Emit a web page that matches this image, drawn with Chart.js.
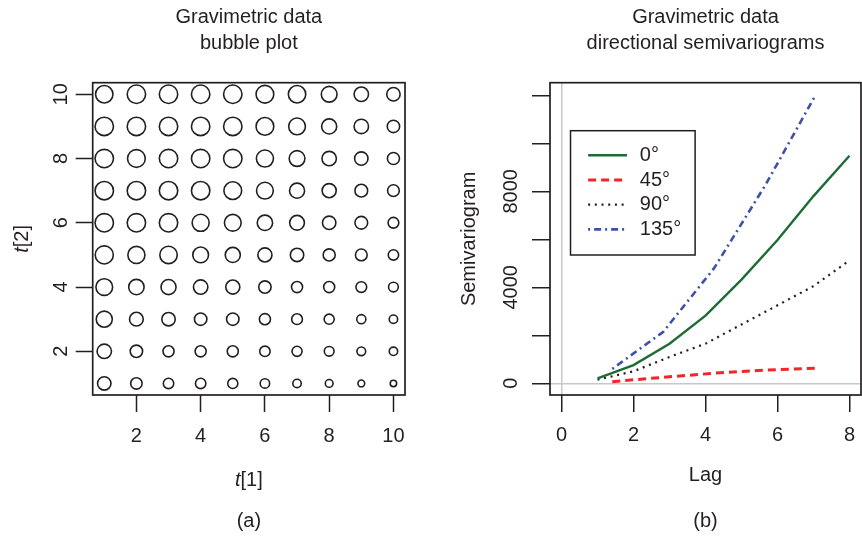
<!DOCTYPE html>
<html>
<head>
<meta charset="utf-8">
<script src="https://cdn.jsdelivr.net/npm/chart.js@4.4.0/dist/chart.umd.min.js"></script>
<style>
  html, body { margin: 0; padding: 0; background: #fff; }
  #wrap { position: relative; width: 862px; height: 536px; }
  canvas { position: absolute; top: 0; }
  #bubbles { left: 0; }
  #semi { left: 431px; }
</style>
</head>
<body>
<div id="wrap">
  <canvas id="bubbles" width="431" height="536"></canvas>
  <canvas id="semi" width="431" height="536"></canvas>
</div>
<script>
// --- data ---
const gridT1 = [1, 2, 3, 4, 5, 6, 7, 8, 9, 10];
const gridT2 = [1, 2, 3, 4, 5, 6, 7, 8, 9, 10];
// bubble values (arbitrary units), one row per t[2] from 1 up to 10
const gravRows = [
  [45, 39, 36, 36, 35, 33, 30, 28, 25, 24],
  [48, 42, 38, 38, 38, 36, 35, 34, 31, 30],
  [53, 46, 45, 42, 42, 38, 37, 35, 32, 30],
  [55, 51, 50, 48, 47, 42, 38, 38, 37, 34],
  [59, 56, 57, 52, 50, 47, 45, 41, 40, 36],
  [60, 60, 60, 56, 55, 51, 49, 45, 43, 37],
  [60, 60, 60, 60, 58, 55, 50, 47, 43, 40],
  [60, 58, 60, 60, 60, 56, 52, 48, 45, 41],
  [60, 60, 60, 60, 60, 58, 55, 50, 48, 42],
  [57, 60, 60, 60, 60, 58, 57, 52, 48, 45]
];
const bubbleTicks = [2, 4, 6, 8, 10];

const lagAxis = [1, 2, 3, 4, 5, 6, 7, 8];          // 0 and 90 degrees
const lagDiag = [1.41, 2.83, 4.24, 5.66, 7.07];    // 45 and 135 degrees
const semi0   = [210, 760, 1650, 2820, 4320, 5970, 7800, 9480];
const semi90  = [150, 500, 1100, 1650, 2450, 3250, 4050, 5120];
const semi45  = [70, 250, 420, 555, 625];
const semi135 = [600, 2150, 4800, 8250, 12040];
const dirLabels = ['0°', '45°', '90°', '135°'];
const lagTicks = [0, 2, 4, 6, 8];
const semiTicks = [0, 2000, 4000, 6000, 8000, 10000, 12000];
const semiTickLabels = ['0', '', '4000', '', '8000', '', ''];

const ink = '#231f20';
const FONT = '"Liberation Sans", Arial, Helvetica, sans-serif';
Chart.defaults.font.family = FONT;
Chart.defaults.font.size = 20;
Chart.defaults.color = ink;

// box round the plot region
const framePlugin = {
  id: 'frame',
  afterDatasetsDraw(chart) {
    const { ctx, chartArea: a } = chart;
    ctx.save();
    ctx.strokeStyle = ink;
    ctx.lineWidth = 1.7;
    ctx.strokeRect(a.left, a.top, a.right - a.left, a.bottom - a.top);
    ctx.restore();
  }
};

// t[1] / t[2] axis labels with italic t
const tLabelPlugin = {
  id: 'tlabels',
  afterDraw(chart) {
    const { ctx, chartArea: a } = chart;
    const put = (sub, cx, cy, rot) => {
      ctx.save();
      ctx.translate(cx, cy);
      ctx.rotate(rot);
      ctx.fillStyle = ink;
      ctx.textBaseline = 'middle';
      ctx.textAlign = 'left';
      ctx.font = 'italic 20px ' + FONT;
      const w1 = ctx.measureText('t').width;
      ctx.font = '20px ' + FONT;
      const w2 = ctx.measureText(sub).width;
      const x0 = -(w1 + w2) / 2;
      ctx.font = 'italic 20px ' + FONT;
      ctx.fillText('t', x0, 0);
      ctx.font = '20px ' + FONT;
      ctx.fillText(sub, x0 + w1, 0);
      ctx.restore();
    };
    put('[1]', (a.left + a.right) / 2, a.bottom + 85, 0);
    put('[2]', 22, (a.top + a.bottom) / 2, -Math.PI / 2);
  }
};

// legend box inside the semivariogram panel
const keyPlugin = {
  id: 'key',
  afterDatasetsDraw(chart) {
    const { ctx } = chart;
    const left = chart.scales.x.getPixelForValue(0.25);
    const top = chart.scales.y.getPixelForValue(10525);
    const w = 124.6, h = 124.3;
    ctx.save();
    ctx.fillStyle = '#fff';
    ctx.fillRect(left, top, w, h);
    ctx.strokeStyle = ink;
    ctx.lineWidth = 1.5;
    ctx.strokeRect(left, top, w, h);
    chart.data.datasets.forEach((ds, i) => {
      const y = top + 24.6 + i * 24.7;
      ctx.strokeStyle = ds.borderColor;
      ctx.lineWidth = ds.borderWidth;
      ctx.setLineDash(ds.borderDash || []);
      ctx.beginPath();
      ctx.moveTo(left + 17.6, y);
      ctx.lineTo(left + 56.6, y);
      ctx.stroke();
      ctx.setLineDash([]);
      ctx.fillStyle = ink;
      ctx.font = '20px ' + FONT;
      ctx.textBaseline = 'middle';
      ctx.textAlign = 'left';
      ctx.fillText(ds.label, left + 69.3, y);
    });
    ctx.restore();
  }
};

function fixedTicks(list) {
  return scale => { scale.ticks = list.map(v => ({ value: v })); };
}
// fixed axis size, no extra label overflow padding
function fixH(h) {
  return s => { s.height = h; s.paddingLeft = 0; s.paddingRight = 0; };
}
function fixW(w) {
  return s => { s.width = w; s.paddingTop = 0; s.paddingBottom = 0; };
}

const tickGrid = { drawOnChartArea: false, drawTicks: true, tickLength: 17, tickColor: ink, tickWidth: 1.5 };

// ---- (a) bubble plot ----
const bubblePoints = [];
gravRows.forEach((row, j) => {
  row.forEach((v, i) => {
    bubblePoints.push({ x: gridT1[i], y: gridT2[j], r: v / 6 - 0.8 });
  });
});

new Chart(document.getElementById('bubbles'), {
  type: 'bubble',
  data: {
    datasets: [{
      data: bubblePoints,
      backgroundColor: 'rgba(0,0,0,0)',
      borderColor: ink,
      borderWidth: 1.6,
      hoverRadius: 0
    }]
  },
  options: {
    responsive: false,
    animation: false,
    devicePixelRatio: 1,
    layout: { padding: { left: 0, right: 26, top: 0, bottom: 0 } },
    plugins: {
      legend: { display: false },
      tooltip: { enabled: false },
      title: {
        display: true, text: ['Gravimetric data', 'bubble plot'], fullSize: false,
        font: { size: 20, weight: 'normal', lineHeight: 1.3 }, color: ink,
        padding: { top: 4, bottom: 26.7 }
      },
      subtitle: {
        display: true, text: '(a)', position: 'bottom', fullSize: false,
        font: { size: 20, lineHeight: 1.2 }, color: ink,
        padding: { top: 8.5, bottom: 2.5 }
      }
    },
    scales: {
      x: {
        type: 'linear', min: 0.64, max: 10.36,
        afterBuildTicks: fixedTicks(bubbleTicks),
        afterFit: fixH(106),
        grid: tickGrid, border: { display: false },
        ticks: { padding: 12, maxRotation: 0, autoSkip: false, color: ink }
      },
      y: {
        type: 'linear', min: 0.64, max: 10.36,
        afterBuildTicks: fixedTicks(bubbleTicks),
        afterFit: fixW(92.7),
        grid: tickGrid, border: { display: false },
        ticks: { padding: 2.6, minRotation: 90, maxRotation: 90, crossAlign: 'center', autoSkip: false, color: ink }
      }
    }
  },
  plugins: [framePlugin, tLabelPlugin]
});

// ---- (b) directional semivariograms ----
const toXY = (xs, ys) => xs.map((x, i) => ({ x: x, y: ys[i] }));
const zeroLine = ctx => (ctx.tick && ctx.tick.value === 0) ? '#c8c8c8' : 'rgba(0,0,0,0)';

new Chart(document.getElementById('semi'), {
  type: 'line',
  data: {
    datasets: [
      { label: dirLabels[0], data: toXY(lagAxis, semi0), borderColor: '#1d6b35', borderWidth: 2.4, borderDash: [] },
      { label: dirLabels[1], data: toXY(lagDiag, semi45), borderColor: '#f42428', borderWidth: 3, borderDash: [8, 5] },
      { label: dirLabels[2], data: toXY(lagAxis, semi90), borderColor: '#231f20', borderWidth: 2.2, borderDash: [2, 4.7] },
      { label: dirLabels[3], data: toXY(lagDiag, semi135), borderColor: '#3d50aa', borderWidth: 2.6, borderDash: [2, 4, 7, 4] }
    ]
  },
  options: {
    responsive: false,
    animation: false,
    devicePixelRatio: 1,
    layout: { padding: { left: 0, right: 1, top: 0, bottom: 0 } },
    elements: { point: { radius: 0, hoverRadius: 0 }, line: { tension: 0, borderCapStyle: 'butt', fill: false } },
    plugins: {
      legend: { display: false },
      tooltip: { enabled: false },
      title: {
        display: true, text: ['Gravimetric data', 'directional semivariograms'], fullSize: false,
        font: { size: 20, weight: 'normal', lineHeight: 1.3 }, color: ink,
        padding: { top: 4, bottom: 26.7 }
      },
      subtitle: {
        display: true, text: '(b)', position: 'bottom', fullSize: false,
        font: { size: 20, lineHeight: 1.2 }, color: ink,
        padding: { top: 8.5, bottom: 2.5 }
      }
    },
    scales: {
      x: {
        type: 'linear', min: -0.32, max: 8.32,
        afterBuildTicks: fixedTicks(lagTicks),
        afterFit: fixH(106),
        grid: Object.assign({}, tickGrid, { drawOnChartArea: true, color: zeroLine, lineWidth: 1.5 }),
        border: { display: false },
        ticks: { padding: 11, maxRotation: 0, autoSkip: false, color: ink },
        title: { display: true, text: 'Lag', color: ink, font: { size: 20, lineHeight: 1.2 }, padding: { top: 0, bottom: 13.3 } }
      },
      y: {
        type: 'linear', min: -487, max: 12525,
        afterBuildTicks: fixedTicks(semiTicks),
        afterFit: fixW(119),
        grid: Object.assign({}, tickGrid, { tickLength: 18, drawOnChartArea: true, color: zeroLine, lineWidth: 1.5 }),
        border: { display: false },
        ticks: {
          padding: -2, minRotation: 90, maxRotation: 90, crossAlign: 'center', autoSkip: false, color: ink,
          callback: (v, i) => semiTickLabels[i]
        },
        title: { display: true, text: 'Semivariogram', color: ink, font: { size: 20, lineHeight: 1.2 }, padding: { top: 26, bottom: 0 } }
      }
    }
  },
  plugins: [framePlugin, keyPlugin]
});
</script>
</body>
</html>
